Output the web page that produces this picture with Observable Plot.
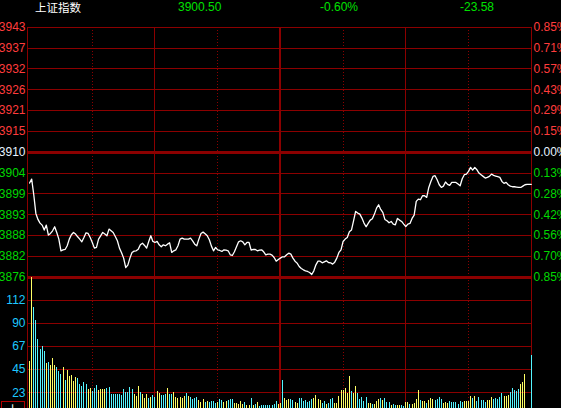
<!DOCTYPE html>
<html><head><meta charset="utf-8">
<script src="https://cdn.jsdelivr.net/npm/d3@7"></script>
<script src="https://cdn.jsdelivr.net/npm/@observablehq/plot@0.6"></script>
<style>
html,body{margin:0;padding:0;background:#000;overflow:hidden;}
#wrap{position:relative;width:561px;height:408px;overflow:hidden;background:#000;}
#wrap svg{position:absolute;left:0;top:0;}
.hd{position:absolute;top:0;white-space:nowrap;font-family:"Liberation Sans",Arial,sans-serif;font-size:12px;line-height:14px;color:#00e000;}
.cjk{font-family:"Noto Sans CJK SC",sans-serif;}
#tab{position:absolute;left:1px;top:401px;width:24px;height:14px;border:1px solid #b00000;color:#fff;font-size:12px;line-height:14px;overflow:hidden;text-align:center;box-sizing:border-box;padding-top:1px;}
</style></head><body>
<div id="wrap">
<div class="hd cjk" style="left:35px;color:#fff;font-size:11.5px;">上证指数</div>
<div class="hd" style="left:178px;">3900.50</div>
<div class="hd" style="left:320px;">-0.60%</div>
<div class="hd" style="left:460px;">-23.58</div>
<div id="tab" class="cjk">上下</div>
</div>
<script>
// ---- data ----
const prices = [
3901.73,3902.80,3898.60,3893.59,3891.98,3891.00,3890.46,3889.12,3890.46,3887.78,
3888.23,3888.94,3890.01,3888.49,3886.71,3883.57,3883.84,3883.93,3884.92,3886.71,
3887.87,3888.49,3888.05,3887.33,3886.71,3885.99,3887.15,3888.40,3888.23,3887.15,
3885.81,3884.29,3884.47,3886.71,3887.60,3888.49,3888.05,3887.60,3889.39,3888.94,
3888.49,3887.42,3886.26,3884.29,3883.04,3881.61,3879.10,3879.73,3881.61,3883.13,
3883.49,3883.57,3884.02,3885.18,3885.63,3885.01,3884.29,3886.08,3887.60,3886.08,
3885.81,3886.08,3885.18,3884.65,3885.18,3884.92,3885.36,3885.72,3883.13,3883.57,
3883.84,3884.92,3886.71,3886.97,3886.71,3886.71,3886.71,3886.97,3886.26,3885.36,
3884.92,3886.71,3888.23,3888.58,3888.14,3887.60,3886.53,3884.83,3883.57,3884.47,
3883.84,3883.66,3883.40,3883.84,3883.75,3883.57,3882.50,3882.32,3883.31,3884.65,
3885.99,3886.26,3885.99,3885.18,3885.81,3885.81,3883.75,3883.93,3883.93,3883.57,
3883.75,3883.84,3883.31,3882.50,3882.68,3882.68,3882.41,3881.79,3880.80,3881.25,
3881.61,3881.97,3881.97,3882.50,3882.95,3882.68,3881.61,3880.80,3880.27,3879.37,
3878.83,3878.48,3878.21,3878.03,3877.76,3877.22,3878.21,3879.82,3880.80,3880.80,
3880.36,3880.62,3880.89,3880.44,3880.36,3880.00,3880.53,3881.61,3883.13,3883.84,
3886.08,3886.71,3887.15,3888.67,3889.12,3891.62,3894.13,3893.68,3893.41,3892.34,
3891.00,3890.01,3890.91,3891.80,3892.16,3893.41,3895.02,3895.91,3894.66,3893.86,
3891.98,3891.62,3891.08,3891.44,3890.73,3890.55,3892.25,3891.80,3891.44,3890.73,
3890.10,3890.73,3890.91,3892.25,3893.14,3896.81,3897.43,3897.26,3898.33,3898.33,
3897.88,3900.56,3902.17,3903.52,3903.70,3902.62,3901.28,3900.56,3900.92,3902.00,
3901.37,3901.10,3901.91,3901.91,3901.91,3901.46,3901.01,3902.89,3903.96,3904.14,
3904.86,3905.93,3905.22,3905.93,3905.31,3904.41,3903.96,3903.52,3903.07,3903.25,
3903.52,3904.14,3903.78,3903.61,3903.43,3903.25,3902.17,3901.64,3901.91,3901.28,
3900.92,3900.74,3900.74,3900.65,3900.56,3900.56,3900.92,3901.28,3901.37,3901.37,
3901.37];

const volumes = [
53.0,134.0,105.4,92.4,74.0,64.3,67.2,62.7,50.4,51.7,
48.8,55.6,48.8,46.8,43.3,40.1,46.8,34.2,43.9,38.1,
39.1,33.6,36.8,36.2,30.4,28.4,32.3,30.0,25.2,26.5,
23.6,26.5,29.4,24.5,25.5,25.5,25.5,26.5,27.1,20.7,
20.7,20.7,20.7,20.7,20.0,25.5,22.3,22.6,27.4,25.5,
20.7,19.0,28.4,22.6,20.7,17.1,20.7,17.1,18.1,19.7,
18.1,23.6,21.9,19.7,19.7,20.7,26.5,20.7,20.7,22.6,
17.7,17.1,17.7,17.1,18.7,21.6,18.7,17.7,15.8,16.8,
17.7,14.8,13.2,15.8,12.9,13.9,12.9,13.9,13.9,11.9,
12.9,15.8,14.8,12.9,13.9,14.8,15.8,15.8,11.9,11.9,
11.0,13.9,11.0,12.9,10.0,10.0,16.8,10.0,11.0,12.9,
9.0,10.0,10.0,10.0,10.0,10.0,10.0,11.0,13.9,11.0,
11.9,34.2,16.8,14.8,15.8,15.8,14.8,12.9,11.9,16.8,
16.8,13.9,14.8,12.9,13.9,15.8,16.8,19.7,15.8,14.8,
11.9,13.9,11.0,11.9,15.8,16.8,11.9,11.9,18.7,24.5,
24.5,26.5,21.6,38.1,23.6,21.6,28.4,21.6,15.8,17.7,
13.9,17.7,11.9,11.9,11.0,11.0,13.9,15.8,16.8,14.8,
16.8,12.9,12.9,10.0,11.0,10.0,10.0,10.0,10.0,9.0,
12.9,12.9,11.0,11.0,11.9,15.8,24.5,14.8,13.9,13.9,
11.9,14.8,16.8,15.8,14.8,15.8,17.7,15.8,11.9,12.9,
11.9,13.9,12.9,12.9,12.9,11.0,13.9,12.9,13.9,13.9,
13.9,18.7,16.8,18.7,13.9,17.7,14.8,14.8,12.9,14.8,
14.8,17.7,15.8,16.8,15.8,17.7,21.6,18.7,18.7,19.7,
22.6,26.5,24.5,23.6,25.5,30.4,32.3,40.1,3.0,3.0,
58.5];

const upFlags = [
1,1,0,0,0,0,0,0,1,0,
1,1,1,0,0,0,1,0,1,1,
1,1,1,0,0,0,0,0,1,1,
0,0,0,1,1,1,1,0,0,0,
0,0,0,0,0,0,0,0,0,0,
1,1,1,0,1,1,1,0,1,0,
0,1,1,0,0,0,1,0,0,1,
1,1,1,1,1,0,1,0,0,0,
0,1,1,1,0,1,0,0,0,0,
1,0,0,1,1,0,0,0,1,1,
1,1,1,0,1,1,0,1,0,1,
0,0,0,0,0,0,0,0,0,1,
1,0,1,1,1,0,0,1,1,0,
0,0,0,0,0,0,1,1,1,1,
0,0,1,0,0,0,1,1,1,1,
1,1,1,1,0,1,1,0,0,0,
0,0,1,1,0,1,1,1,0,1,
0,0,0,1,0,0,1,1,0,0,
1,1,0,1,1,1,1,0,1,1,
0,1,1,1,0,0,0,0,1,1,
1,0,0,0,0,0,0,0,1,1,
1,1,0,1,0,0,0,0,0,1,
1,1,0,0,0,0,0,1,1,1,
0,0,0,0,0,1,1,1,1,1,
0];

const preClose = 3910;
const priceTicks = [3943.5,3937.92,3932.33,3926.75,3921.17,3915.58,3910,3904.42,3898.83,3893.25,3887.67,3882.08,3876.5];
const priceLabels = ["3943","3937","3932","3926","3921","3915","3910","3904","3899","3893","3888","3882","3876"];
const pctLabels = ["0.85%","0.71%","0.57%","0.43%","0.29%","0.15%","0.00%","0.13%","0.28%","0.42%","0.56%","0.70%","0.85%"];
const volTicks = [22.4,44.8,67.2,89.6,112];
const volLabels = ["23","45","67","90","112"];
const solidMinutes = [60,180];
const middayMinute = [120];
const dottedMinutes = [30,90,150,210];

// ---- styling ----
const RED = "#8b0000";
const UPC = "#ff3c3c", DNC = "#00d800", FLAT = "#e6f2ff";
const YEL = "#ffff66", CYN = "#55f5ff";
const font = "'Liberation Sans', Arial, sans-serif";
const X = {domain: [-1, 240], range: [27, 530.7], axis: null};

const priceData = prices.map((p, i) => ({i, p}));
const volData = volumes.map((v, i) => ({i, v, c: upFlags[i] ? YEL : CYN}));
const tickRows = priceTicks.map((t, k) => ({t, l: priceLabels[k], r: pctLabels[k],
  c: t > preClose ? UPC : t < preClose ? DNC : FLAT}));
const gridNormal = priceTicks.filter(t => t !== preClose && t !== 3876.5);

const wrap = document.getElementById("wrap");

const pricePlot = Plot.plot({
  width: 561, height: 408,
  marginLeft: 27, marginRight: 30, marginTop: 27, marginBottom: 131,
  style: {background: "transparent", fontFamily: font, fontSize: "12px"},
  x: X,
  y: {domain: [3876.5, 3943.5], range: [276.7, 26.7], axis: null},
  color: {type: "identity"},
  marks: [
    Plot.ruleY(gridNormal, {stroke: RED, strokeWidth: 1, shapeRendering: "crispEdges"}),
    Plot.ruleX(dottedMinutes, {stroke: RED, strokeWidth: 1, strokeDasharray: "1,2", shapeRendering: "crispEdges"}),
    Plot.ruleX(solidMinutes, {stroke: RED, strokeWidth: 1, shapeRendering: "crispEdges"}),
    Plot.ruleX(middayMinute, {stroke: RED, strokeWidth: 2, shapeRendering: "crispEdges"}),
    Plot.frame({stroke: RED, shapeRendering: "crispEdges"}),
    Plot.ruleY([preClose], {stroke: RED, strokeWidth: 3, shapeRendering: "crispEdges"}),
    Plot.ruleY([3876.5], {stroke: RED, strokeWidth: 3, shapeRendering: "crispEdges"}),
    Plot.line(priceData, {x: "i", y: "p", stroke: "#ffffff", strokeWidth: 1.3}),
    Plot.text(tickRows, {y: "t", text: "l", fill: "c", frameAnchor: "left", textAnchor: "end", dx: -2, fontSize: 12}),
    Plot.text(tickRows, {y: "t", text: "r", fill: "c", frameAnchor: "right", textAnchor: "start", dx: 2, fontSize: 12})
  ]
});
wrap.appendChild(pricePlot);

const volPlot = Plot.plot({
  width: 561, height: 408,
  marginLeft: 27, marginRight: 30, marginTop: 277, marginBottom: 0,
  style: {background: "transparent", fontFamily: font, fontSize: "12px"},
  x: X,
  y: {domain: [0, 134.4], range: [415.3, 276.7], axis: null},
  color: {type: "identity"},
  marks: [
    Plot.ruleY(volTicks, {stroke: RED, strokeWidth: 1, shapeRendering: "crispEdges"}),
    Plot.ruleX(dottedMinutes, {stroke: RED, strokeWidth: 1, strokeDasharray: "1,2", shapeRendering: "crispEdges"}),
    Plot.ruleX(solidMinutes, {stroke: RED, strokeWidth: 1, shapeRendering: "crispEdges"}),
    Plot.ruleX(middayMinute, {stroke: RED, strokeWidth: 2, shapeRendering: "crispEdges"}),
    Plot.ruleX([-1, 240.15], {stroke: RED, strokeWidth: 1, shapeRendering: "crispEdges"}),
    Plot.ruleX(volData, {x: "i", y1: 0, y2: "v", stroke: "c", strokeWidth: 1, shapeRendering: "crispEdges"}),
    Plot.text(volTicks.map((t, k) => ({t, l: volLabels[k]})), {y: "t", text: "l", fill: "#1ec8ff", frameAnchor: "left", textAnchor: "end", dx: -2, fontSize: 12})
  ]
});
wrap.appendChild(volPlot);
</script>
</body></html>
